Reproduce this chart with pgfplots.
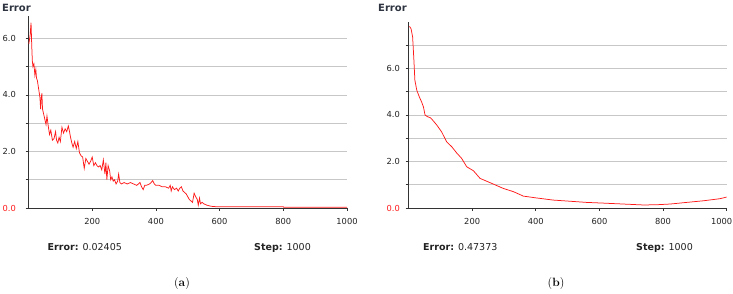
\documentclass[border=0pt]{standalone}
\usepackage{fontspec}
\usepackage{pgfplots}
\pgfplotsset{compat=1.18}
\newfontfamily\chartfont{DejaVu Sans}
\definecolor{titlecol}{HTML}{2E3440}
\definecolor{txtcol}{HTML}{222222}
\definecolor{errred}{HTML}{FF1A1A}

\pgfplotstableread{
x y
1 5.8
5 6.1
8 6.55
10 5.8
12 5.2
14 5.0
17 5.1
20 4.7
23 4.9
25 4.6
28 4.5
32 4.2
36 3.9
38 3.5
40 3.9
42 4.05
44 3.5
48 3.3
52 3.1
55 2.95
58 3.25
62 2.9
66 2.6
70 2.75
75 2.4
80 2.45
85 2.7
88 2.4
92 2.3
96 2.5
100 2.35
105 2.85
110 2.65
115 2.8
120 2.7
125 2.9
128 2.75
132 2.5
136 2.3
140 2.15
145 2.35
150 2.1
155 2.35
160 1.95
165 1.85
170 1.8
175 1.4
180 1.75
185 1.65
190 1.55
195 1.65
200 1.8
205 1.5
210 1.6
215 1.5
220 1.45
225 1.5
230 1.35
235 1.7
240 1.2
243 1.6
246 1.0
250 1.5
255 1.3
258 1.0
262 1.1
266 0.95
270 1.0
275 0.85
280 0.95
283 1.2
287 0.9
292 0.85
300 0.9
310 0.85
320 0.9
330 0.85
340 0.8
350 0.9
355 0.75
360 0.65
365 0.8
370 0.8
380 0.85
385 0.9
390 0.97
395 0.85
400 0.8
410 0.8
420 0.75
430 0.75
440 0.7
445 0.8
448 0.6
452 0.75
458 0.65
465 0.7
470 0.6
475 0.7
480 0.75
485 0.6
490 0.55
495 0.5
500 0.4
505 0.3
510 0.25
515 0.2
520 0.52
525 0.4
530 0.3
533 0.1
537 0.35
540 0.15
545 0.2
550 0.15
560 0.1
570 0.07
580 0.05
600 0.045
700 0.045
800 0.045
801 0.03
900 0.027
1000 0.024
}\dataA

\pgfplotstableread{
x y
3 7.8
8 7.7
13 7.34
17 6.34
20 5.49
26 5.06
34 4.77
41 4.56
47 4.34
52 3.99
60 3.92
68 3.88
73 3.82
89 3.56
104 3.27
120 2.84
136 2.63
151 2.37
167 2.13
183 1.77
204 1.6
225 1.27
256 1.09
298 0.84
330 0.70
361 0.51
403 0.43
455 0.34
508 0.29
560 0.24
612 0.21
675 0.17
738 0.13
780 0.14
822 0.17
874 0.24
927 0.31
979 0.40
1000 0.47
}\dataB

\pgfplotsset{
  errstyle/.style={
    scale only axis,
    xmin=0, xmax=1000, ymin=0,
    axis x line*=bottom, axis y line*=left,
    x axis line style={-}, y axis line style={-},
    axis line style={black!80, line width=0.8pt},
    ytick={0,1,2,3,4,5,6,7},
    yticklabels={{\color{errred}0.0},,2.0,,4.0,,6.0,},
    xtick={200,400,600,800,1000},
    ymajorgrids,
    major grid style={black!22, line width=0.7pt},
    tick align=outside, major tick length=3pt,
    tick style={black!80, line width=0.6pt},
    ticklabel style={font=\chartfont\fontsize{8.3}{10}\selectfont, text=txtcol},
    xticklabel style={inner sep=0pt, anchor=north, yshift=-7pt},
    yticklabel style={inner sep=0pt, anchor=east},
  }
}

\begin{document}
\begin{tikzpicture}[x=1pt,y=1pt]
\path[use as bounding box] (0,0) rectangle (733,294);

\begin{axis}[errstyle, at={(28.5pt,86pt)}, anchor=south west,
  width=318.5pt, height=192.3pt, ymax=6.8,
  xticklabels={200,400,600,800,1000},
  yticklabel style={xshift=-9.5pt}]
\addplot[errred, line width=0.75pt] table[x=x,y=y] {\dataA};
\end{axis}

\begin{axis}[errstyle, at={(408.5pt,86pt)}, anchor=south west,
  width=318.2pt, height=186.3pt, ymax=8,
  xticklabels={200,400,600,800,{\hspace*{-10pt}1000}},
  yticklabel style={xshift=-5.5pt}]
\addplot[errred, line width=0.75pt] table[x=x,y=y] {\dataB};
\end{axis}

\node[anchor=base west, inner sep=0pt, text=titlecol,
  font=\chartfont\bfseries\fontsize{10}{12}\selectfont] at (2,282) {Error};
\node[anchor=base west, inner sep=0pt, text=titlecol,
  font=\chartfont\bfseries\fontsize{10}{12}\selectfont] at (378,282) {Error};

\node[anchor=base west, inner sep=0pt, text=txtcol,
  font=\chartfont\fontsize{9.5}{11}\selectfont] at (47.5,43) {\textbf{Error:} 0.02405};
\node[anchor=base west, inner sep=0pt, text=txtcol,
  font=\chartfont\fontsize{9.5}{11}\selectfont] at (254,43) {\textbf{Step:} 1000};
\node[anchor=base west, inner sep=0pt, text=txtcol,
  font=\chartfont\fontsize{9.5}{11}\selectfont] at (423,43) {\textbf{Error:} 0.47373};
\node[anchor=base west, inner sep=0pt, text=txtcol,
  font=\chartfont\fontsize{9.5}{11}\selectfont] at (636,43) {\textbf{Step:} 1000};

\node[inner sep=0pt, font=\fontsize{12}{14}\selectfont] at (182,10) {(\textbf{a})};
\node[inner sep=0pt, font=\fontsize{12}{14}\selectfont] at (556,10) {(\textbf{b})};
\end{tikzpicture}
\end{document}
